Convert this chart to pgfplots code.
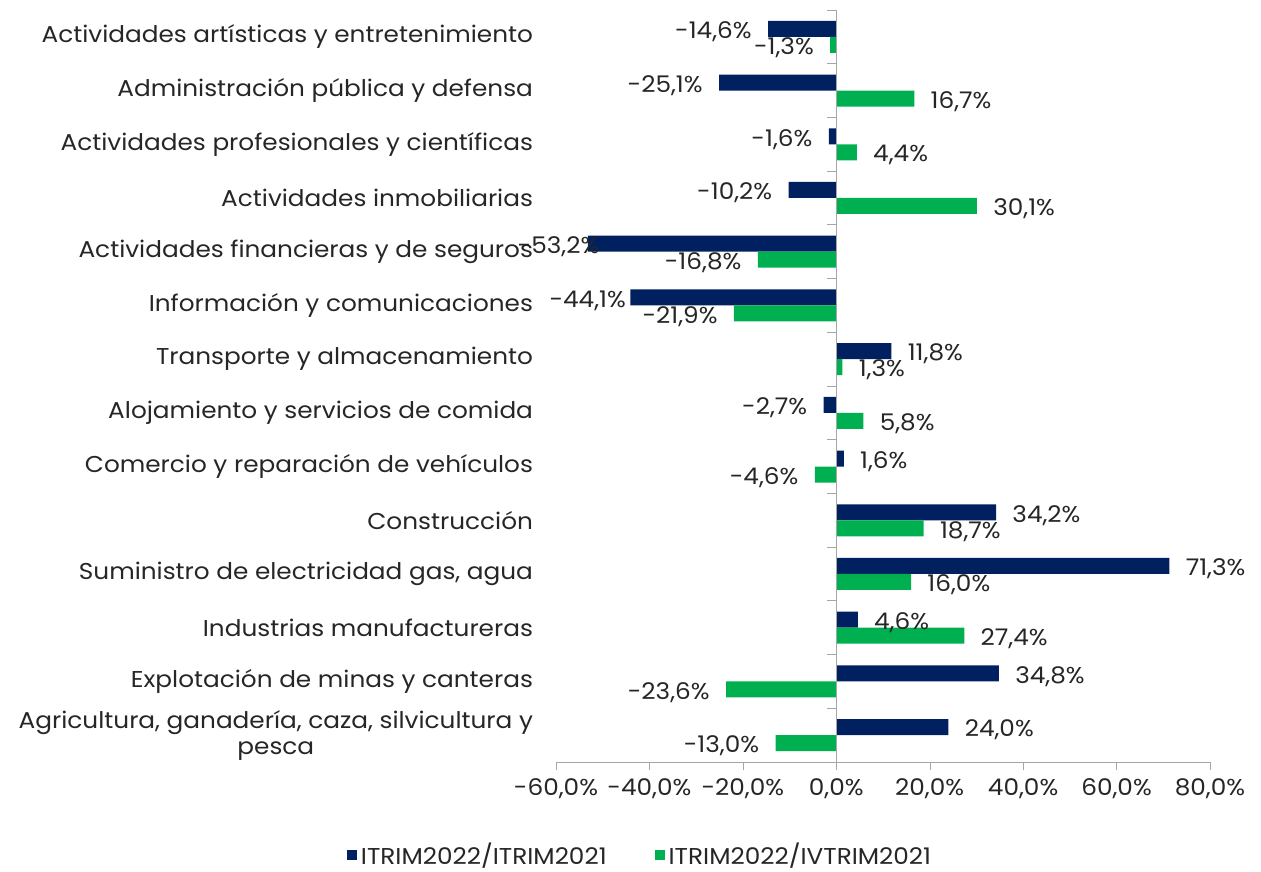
\documentclass[border=0pt]{standalone}
\usepackage{pgfplots}
\pgfplotsset{compat=1.18}
\usepackage{pgfplotstable}
\usepackage{fontspec}
\setmainfont{Poppins}[FakeStretch=1.08]
\definecolor{navy}{HTML}{002060}
\definecolor{verde}{HTML}{00B050}
\definecolor{ejegris}{HTML}{A6A6A6}
\definecolor{texto}{HTML}{262626}

% y: 0 = bottom category, 13 = top category
% sa, sb: extra label shift (bp) where the labels were pushed inwards
\pgfplotstableread{
y a b sa sb
0 24.0 -13.0 0 0
1 34.8 -23.6 0 0
2 4.6 27.4 0 0
3 71.3 16.0 0 0
4 34.2 18.7 0 0
5 1.6 -4.6 0 0
6 -2.7 5.8 0 0
7 11.8 1.3 0 0
8 -44.1 -21.9 6 0
9 -53.2 -16.8 14 0
10 -10.2 30.1 0 0
11 -1.6 4.4 0 0
12 -25.1 16.7 0 0
13 -14.6 -1.3 0 0
}\datos

\begin{document}
\begin{tikzpicture}
\begin{axis}[
    scale only axis,
    width=327bp, height=376bp,
    xbar, bar width=8bp,
    xmin=-60, xmax=80, ymin=-0.5, ymax=13.5,
    clip=false,
    /pgf/number format/assume math mode=true,
    font=\fontsize{11.5}{13}\selectfont,
    axis x line*=bottom,
    axis y line*=left,
    y axis line style={draw=none},
    x axis line style={ejegris},
    xtick={-60,-40,...,80},
    xtick style={ejegris},
    ytick style={draw=none},
    tick align=outside,
    major tick length=4bp,
    xticklabel={\pgfmathprintnumber[fixed,fixed zerofill,precision=1,use comma]{\tick}\%},
    xticklabel style={text=texto, yshift=-1bp},
    ytick={0,...,13},
    yticklabels={
        {Agricultura, ganadería, caza, silvicultura y\\pesca},
        Explotación de minas y canteras,
        Industrias manufactureras,
        {Suministro de electricidad gas, agua},
        Construcción,
        Comercio y reparación de vehículos,
        Alojamiento y servicios de comida,
        Transporte y almacenamiento,
        Información y comunicaciones,
        Actividades financieras y de seguros,
        Actividades inmobiliarias,
        Actividades profesionales y científicas,
        Administración pública y defensa,
        Actividades artísticas y entretenimiento},
    yticklabel style={align=center, text=texto, xshift=-4bp},
    point meta=x,
    nodes near coords={\pgfmathprintnumber[fixed,fixed zerofill,precision=1,use comma]{\pgfplotspointmeta}\%},
    nodes near coords align=horizontal,
    every node near coord/.append style={text=texto, inner xsep=8bp, xshift=\sh bp, yshift=-1.5bp},
    legend style={at={(0.1300,-0.1235)}, anchor=center, draw=none, inner sep=1bp,
        legend columns=-1, text=texto,
        /tikz/every even column/.append style={column sep=22bp}},
    legend image code/.code={\fill[#1] (0bp,-2.5bp) rectangle (5bp,2.5bp);},
]
\addplot[fill=navy, draw=none, bar shift=4bp,
    visualization depends on={\thisrow{sa}\as\sh}] table[x=a, y=y]{\datos};
\addplot[fill=verde, draw=none, bar shift=-4bp,
    visualization depends on={\thisrow{sb}\as\sh}] table[x=b, y=y]{\datos};
\legend{ITRIM2022/ITRIM2021, ITRIM2022/IVTRIM2021}

% vertical axis at zero with ticks between categories
\draw[ejegris] (axis cs:0,-0.5) -- (axis cs:0,13.5);
\pgfplotsinvokeforeach{0,...,14}{\draw[ejegris] (axis cs:0,#1-0.5) -- ([xshift=-4.5bp]axis cs:0,#1-0.5);}

\coordinate (bbsw) at (rel axis cs:-0.8502,-0.14628);
\coordinate (bbne) at (rel axis cs:1.0780,1.01330);
\end{axis}
\pgfresetboundingbox
\path (bbsw) rectangle (bbne);
\end{tikzpicture}
\end{document}
